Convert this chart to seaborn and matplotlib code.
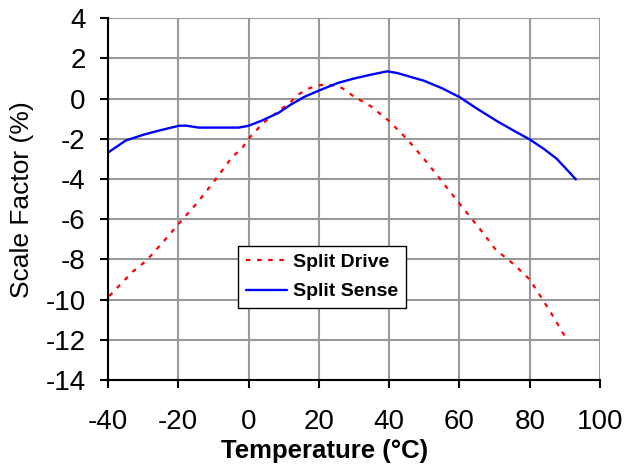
import matplotlib
matplotlib.use('Agg')

import pandas as pd
import matplotlib.pyplot as plt
import seaborn as sns

# Split Drive (red dotted)
drive_temp = [-39.6, -33, -29.2, -24.5, -19.8, -14.6, -9.9, -4.7, -1.9, 0, 4.2, 8, 11.8, 14.1,
              17, 20, 22.5, 26.6, 30, 34.8, 40, 45.2, 50.4, 54.6, 60.3, 65.9, 70.2, 75.4,
              79.9, 83.4, 86.2, 90]
drive_sf = [-9.82, -8.61, -8.08, -7.17, -6.21, -5.18, -4.14, -2.91, -2.48, -2.0, -1.2, -0.7, -0.2, 0.2,
            0.5, 0.66, 0.72, 0.53, 0.1, -0.38, -1.12, -2.03, -3.1, -4.02, -5.29, -6.5, -7.49, -8.23,
            -8.98, -9.92, -10.7, -11.83]

# Split Sense (blue solid)
sense_temp = [-40.1, -34.9, -30, -25.5, -19.8, -17.9, -14.2, -8, -2.8, 0, 3.8, 8.5, 12, 16, 20,
              25.4, 30, 35, 39.5, 42.4, 49.9, 55, 60, 65, 70.7, 75, 80, 84, 87.6, 91.4, 93.1]
sense_sf = [-2.7, -2.08, -1.8, -1.59, -1.35, -1.34, -1.44, -1.44, -1.44, -1.35, -1.09, -0.71, -0.3, 0.1, 0.4,
            0.78, 1.0, 1.2, 1.36, 1.27, 0.89, 0.52, 0.08, -0.5, -1.12, -1.55, -2.03, -2.5, -2.98, -3.69, -4.02]

df_drive = pd.DataFrame({'Temperature': drive_temp, 'Scale Factor': drive_sf})
df_sense = pd.DataFrame({'Temperature': sense_temp, 'Scale Factor': sense_sf})

sns.set_style('white')
plt.rcParams['font.family'] = ['Liberation Sans', 'DejaVu Sans']
plt.rcParams['axes.unicode_minus'] = False
plt.rcParams['text.color'] = 'black'
plt.rcParams['axes.labelcolor'] = 'black'
plt.rcParams['xtick.color'] = 'black'
plt.rcParams['ytick.color'] = 'black'

fig = plt.figure(figsize=(6.31, 4.67), dpi=100)
ax = fig.add_axes([0.171, 0.186, 0.78, 0.775])

sns.lineplot(data=df_drive, x='Temperature', y='Scale Factor', ax=ax, color='red',
             linestyle=(0, (2, 3)), linewidth=1.6, label='Split Drive', sort=False)
sns.lineplot(data=df_sense, x='Temperature', y='Scale Factor', ax=ax, color='blue',
             linewidth=1.7, label='Split Sense', sort=False)

ax.set_xlim(-40, 100)
ax.set_ylim(-14, 4)
ax.set_xticks(range(-40, 101, 20))
ax.set_yticks(range(-14, 5, 2))
ax.grid(True, color='#999999', linewidth=1.5)
ax.set_axisbelow(True)
for side in ['top', 'right']:
    ax.spines[side].set_visible(False)
for side in ['left', 'bottom']:
    ax.spines[side].set_color('black')
    ax.spines[side].set_linewidth(1.5)
ax.tick_params(axis='both', direction='out', length=6, width=1.5, color='black',
               labelsize=20, left=True, bottom=True)
ax.tick_params(axis='x', pad=15)
ax.tick_params(axis='y', pad=10)

ax.set_xlabel('Temperature (°C)', fontsize=18.5, fontweight='bold')
ax.set_ylabel('Scale Factor (%)', fontsize=19)
ax.xaxis.set_label_coords(0.441, -0.162)
ax.yaxis.set_label_coords(-0.15, 0.5)

leg = ax.legend(loc='lower left', bbox_to_anchor=(0.264, 0.199), borderaxespad=0,
                fancybox=False, framealpha=1, edgecolor='black', handlelength=2.15,
                handletextpad=0.3, borderpad=0.4, labelspacing=0.6,
                prop={'size': 14, 'weight': 'bold'})
leg.get_frame().set_linewidth(1.0)

fig.savefig('out.png', dpi=100)
